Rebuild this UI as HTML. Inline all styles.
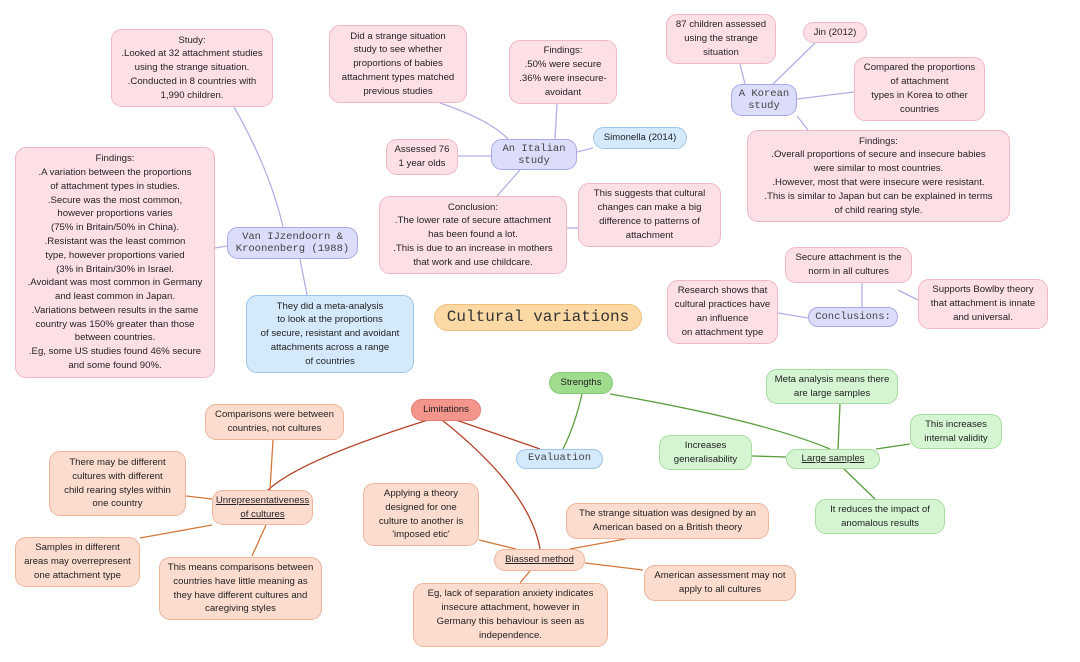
<!DOCTYPE html>
<html><head><meta charset="utf-8"><style>
body{margin:0;width:1080px;height:662px;background:#fff;position:relative;overflow:hidden;font-family:"Liberation Sans",sans-serif}
.b{position:absolute;box-sizing:border-box;display:flex;align-items:center;justify-content:center;text-align:center;font-size:9.6px;line-height:13.8px;color:#222;border-radius:11px;border:1px solid}
.p{background:#fde0e6;border-color:#f0b8c4}
.l{background:#dcdcfb;border-color:#a8a8e6;font-family:"Liberation Mono",monospace;font-size:10.5px;color:#444;line-height:12px}
.bl{background:#d4e9fb;border-color:#9ec6ea}
.g{background:#d5f5d2;border-color:#a6dca0}
.pe{background:#fcdccf;border-color:#eeb49c}
.u{text-decoration:underline}
svg{position:absolute;left:0;top:0}
</style></head><body>
<svg width="1080" height="662" fill="none" stroke-width="1.3">
<g stroke="#b0b0e8">
<path d="M234,107 Q270,170 283,227"/>
<path d="M215,248 L227,246"/>
<path d="M300,259 L307,295"/>
<path d="M440,103 Q490,120 508,139"/>
<path d="M458,156 L491,156"/>
<path d="M555,139 L557,104"/>
<path d="M577,152 L593,148"/>
<path d="M520,170 L497,196"/>
<path d="M567,228 L578,228"/>
<path d="M745,84 L740,64"/>
<path d="M773,84 L815,43"/>
<path d="M797,99 L854,92"/>
<path d="M797,116 L808,130"/>
<path d="M862,307 L862,283"/>
<path d="M808,318 L778,313"/>
<path d="M898,290 L918,300"/>
</g>
<g stroke="#5a9e3c">
<path d="M582,394 Q575,425 563,449"/>
<path d="M610,394 Q760,420 830,449"/>
<path d="M838,449 L840,404"/>
<path d="M876,449 L910,444"/>
<path d="M752,456 L786,457"/>
<path d="M844,469 L875,499"/>
</g>
<g stroke="#b5432a">
<path d="M428,420 Q300,460 268,490"/>
<path d="M442,420 Q530,490 540,549"/>
<path d="M456,420 L540,449"/>
</g>
<g stroke="#d4773a">
<path d="M273,440 L270,490"/>
<path d="M186,496 L212,499"/>
<path d="M212,525 L140,538"/>
<path d="M266,525 L252,556"/>
<path d="M479,540 L516,549"/>
<path d="M570,549 L625,539"/>
<path d="M585,563 L643,570"/>
<path d="M530,571 L520,583"/>
</g>
</svg>

<div class="b p" style="left:111px;top:29px;width:162px;height:78px">Study:<br>.Looked at 32 attachment studies<br>using the strange situation.<br>.Conducted in 8 countries with<br>1,990 children.</div>
<div class="b p" style="left:15px;top:147px;width:200px;height:231px">Findings:<br>.A variation between the proportions<br>of attachment types in studies.<br>.Secure was the most common,<br>however proportions varies<br>(75% in Britain/50% in China).<br>.Resistant was the least common<br>type, however proportions varied<br>(3% in Britain/30% in Israel.<br>.Avoidant was most common in Germany<br>and least common in Japan.<br>.Variations between results in the same<br>country was 150% greater than those<br>between countries.<br>.Eg, some US studies found 46% secure<br>and some found 90%.</div>
<div class="b l" style="left:227px;top:227px;width:131px;height:32px">Van IJzendoorn &amp;<br>Kroonenberg (1988)</div>
<div class="b bl" style="left:246px;top:295px;width:168px;height:78px">They did a meta-analysis<br>to look at the proportions<br>of secure, resistant and avoidant<br>attachments across a range<br>of countries</div>
<div class="b p" style="left:329px;top:25px;width:138px;height:78px">Did a strange situation<br>study to see whether<br>proportions of babies<br>attachment types matched<br>previous studies</div>
<div class="b p" style="left:509px;top:40px;width:108px;height:64px">Findings:<br>.50% were secure<br>.36% were insecure-<br>avoidant</div>
<div class="b p" style="left:386px;top:139px;width:72px;height:36px">Assessed 76<br>1 year olds</div>
<div class="b l" style="left:491px;top:139px;width:86px;height:31px">An Italian<br>study</div>
<div class="b bl" style="left:593px;top:127px;width:94px;height:22px">Simonella (2014)</div>
<div class="b p" style="left:379px;top:196px;width:188px;height:78px">Conclusion:<br>.The lower rate of secure attachment<br>has been found a lot.<br>.This is due to an increase in mothers<br>that work and use childcare.</div>
<div class="b p" style="left:578px;top:183px;width:143px;height:64px">This suggests that cultural<br>changes can make a big<br>difference to patterns of<br>attachment</div>
<div class="b" style="left:434px;top:304px;width:208px;height:27px;background:#fbd8a4;border-color:#efbf7c;border-radius:14px;font-family:'Liberation Mono',monospace;font-size:16px;color:#333">Cultural variations</div>
<div class="b p" style="left:666px;top:14px;width:110px;height:50px">87 children assessed<br>using the strange<br>situation</div>
<div class="b p" style="left:803px;top:22px;width:64px;height:21px">Jin (2012)</div>
<div class="b l" style="left:731px;top:84px;width:66px;height:32px">A Korean<br>study</div>
<div class="b p" style="left:854px;top:57px;width:131px;height:64px">Compared the proportions<br>of attachment<br>types in Korea to other<br>countries</div>
<div class="b p" style="left:747px;top:130px;width:263px;height:92px">Findings:<br>.Overall proportions of secure and insecure babies<br>were similar to most countries.<br>.However, most that were insecure were resistant.<br>.This is similar to Japan but can be explained in terms<br>of child rearing style.</div>
<div class="b p" style="left:785px;top:247px;width:127px;height:36px">Secure attachment is the<br>norm in all cultures</div>
<div class="b p" style="left:667px;top:280px;width:111px;height:64px">Research shows that<br>cultural practices have<br>an influence<br>on attachment type</div>
<div class="b l" style="left:808px;top:307px;width:90px;height:20px">Conclusions:</div>
<div class="b p" style="left:918px;top:279px;width:130px;height:50px">Supports Bowlby theory<br>that attachment is innate<br>and universal.</div>
<div class="b" style="left:549px;top:372px;width:64px;height:22px;background:#9fdc8e;border-color:#86c878">Strengths</div>
<div class="b g" style="left:766px;top:369px;width:132px;height:35px">Meta analysis means there<br>are large samples</div>
<div class="b g" style="left:910px;top:414px;width:92px;height:35px">This increases<br>internal validity</div>
<div class="b g" style="left:659px;top:435px;width:93px;height:35px">Increases<br>generalisability</div>
<div class="b g u" style="left:786px;top:449px;width:94px;height:20px">Large samples</div>
<div class="b g" style="left:815px;top:499px;width:130px;height:35px">It reduces the impact of<br>anomalous results</div>
<div class="b bl" style="left:516px;top:449px;width:87px;height:20px;font-family:'Liberation Mono',monospace;font-size:10.5px;color:#444">Evaluation</div>
<div class="b" style="left:411px;top:399px;width:70px;height:22px;background:#f4958c;border-color:#e07b72">Limitations</div>
<div class="b pe" style="left:205px;top:404px;width:139px;height:36px">Comparisons were between<br>countries, not cultures</div>
<div class="b pe" style="left:49px;top:451px;width:137px;height:65px">There may be different<br>cultures with different<br>child rearing styles within<br>one country</div>
<div class="b pe u" style="left:212px;top:490px;width:101px;height:35px">Unrepresentativeness<br>of cultures</div>
<div class="b pe" style="left:15px;top:537px;width:125px;height:50px">Samples in different<br>areas may overrepresent<br>one attachment type</div>
<div class="b pe" style="left:159px;top:557px;width:163px;height:63px">This means comparisons between<br>countries have little meaning as<br>they have different cultures and<br>caregiving styles</div>
<div class="b pe" style="left:363px;top:483px;width:116px;height:63px">Applying a theory<br>designed for one<br>culture to another is<br>'imposed etic'</div>
<div class="b pe u" style="left:494px;top:549px;width:91px;height:22px">Biassed method</div>
<div class="b pe" style="left:566px;top:503px;width:203px;height:36px">The strange situation was designed by an<br>American based on a British theory</div>
<div class="b pe" style="left:644px;top:565px;width:152px;height:36px">American assessment may not<br>apply to all cultures</div>
<div class="b pe" style="left:413px;top:583px;width:195px;height:64px">Eg, lack of separation anxiety indicates<br>insecure attachment, however in<br>Germany this behaviour is seen as<br>independence.</div>
</body></html>
